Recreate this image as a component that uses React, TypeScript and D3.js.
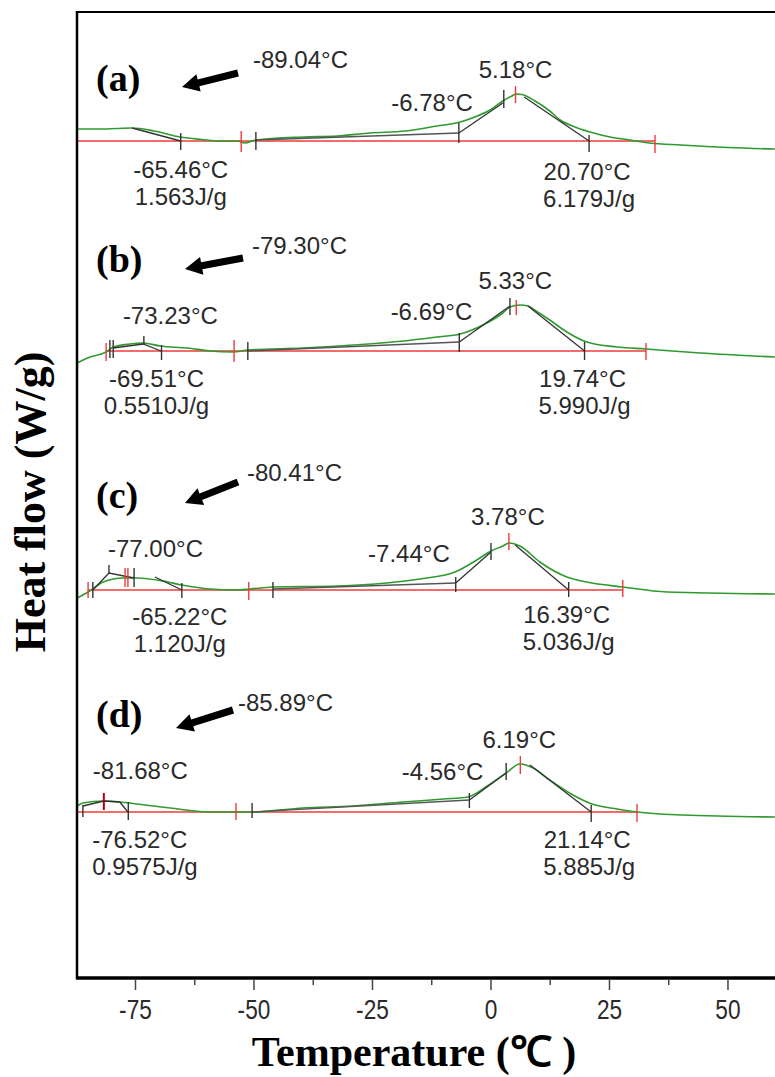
import React from 'react';
import * as d3 from 'd3';

// ---------- data ----------
const panelNames = ['(a)', '(b)', '(c)', '(d)'];
// vertical offset (W/g) of each stacked DSC trace
const panelOffsets = [8.36, 6.26, 3.87, 1.65];
const xTicks = [-75, -50, -25, 0, 25, 50];
const xMinorTicks = [-62.5, -37.5, -12.5, 12.5, 37.5];

// heat-flow traces [temperature °C, heat flow relative to baseline W/g]
const curveA = [[-87.3,0.12],[-83,0.12],[-79,0.125],[-75.7,0.13],[-71,0.10],[-65.6,0.04],[-61,0.015],[-57.2,0.0],[-53.4,0.0],[-52,-0.02],[-49.6,0.01],[-39.7,0.04],[-32.5,0.05],[-25.5,0.08],[-18,0.10],[-11.4,0.15],[-6.5,0.19],[-3.4,0.24],[-0.2,0.31],[2.5,0.40],[4.4,0.45],[5.3,0.47],[6.5,0.465],[9.3,0.40],[12.4,0.30],[14.6,0.21],[17.7,0.14],[20.9,0.09],[25.1,0.04],[29.3,0.01],[33.5,-0.02],[40,-0.04],[50,-0.065],[59.9,-0.08]];
const curveB = [[-87.3,-0.12],[-84.6,-0.06],[-81.2,-0.01],[-79.7,0.04],[-76.2,0.07],[-73.4,0.08],[-69.8,0.05],[-64.1,0.03],[-59.3,0.0],[-54.4,-0.01],[-51.3,0.01],[-39.7,0.03],[-29.1,0.06],[-18.5,0.10],[-11.4,0.14],[-6.5,0.17],[-1.7,0.26],[2.5,0.38],[4.0,0.44],[6.1,0.46],[7.8,0.45],[9.5,0.40],[12.4,0.31],[16.0,0.19],[20.2,0.09],[26.6,0.04],[32.7,0.02],[44.1,-0.02],[59.9,-0.06]];
const curveC = [[-87.3,-0.08],[-85.0,-0.02],[-81.8,0.08],[-77.6,0.12],[-74.7,0.12],[-69.2,0.09],[-65.2,0.05],[-59.3,0.01],[-53.6,0.0],[-50.9,0.01],[-46.0,0.03],[-32.5,0.04],[-22.0,0.07],[-15.0,0.11],[-7.6,0.18],[-3.0,0.30],[0.0,0.39],[2.5,0.44],[3.8,0.47],[6.1,0.44],[10.3,0.28],[16.0,0.13],[20.2,0.08],[27.8,0.03],[37.1,-0.02],[59.9,-0.04]];
const curveD = [[-87.3,0.06],[-86.1,0.09],[-81.7,0.11],[-78.3,0.10],[-74.7,0.08],[-67.7,0.04],[-59.7,0.0],[-53.8,0.0],[-50.4,0.0],[-39.7,0.04],[-29.1,0.06],[-18.5,0.10],[-10,0.13],[-4.9,0.15],[-0.8,0.26],[3.2,0.39],[6.1,0.48],[8.9,0.44],[12.4,0.32],[17.3,0.17],[21.3,0.08],[26.6,0.03],[30.8,0.0],[40.5,-0.03],[59.9,-0.05]];
const curves = [curveA, curveB, curveC, curveD];

// integration baseline spans [start °C, end °C]
const baselineSpans = [[-87.34, 34.6], [-81.2, 32.7], [-85.0, 27.8], [-87.34, 30.8]];

// analysis tangent / baseline segments [°C, rel W/g]
const segA = [[[-75.7,0.13],[-65.46,0]], [[-49.6,0.01],[-6.78,0.08]], [[-6.78,0.08],[2.5,0.38]], [[7.0,0.44],[20.70,0]]];
const segB = [[[-79.7,0.03],[-73.4,0.07],[-69.6,0.0]], [[-51.3,0.0],[-6.69,0.09]], [[-6.69,0.09],[4.0,0.45]], [[7.8,0.45],[19.74,0]]];
const segC = [[[-84.0,0],[-80.6,0.17],[-75.3,0.12]], [[-70.9,0.13],[-65.22,0]], [[-46.0,0.01],[-7.44,0.07]], [[-7.44,0.07],[0.0,0.38]], [[5.1,0.45],[16.39,0]]];
const segD = [[[-86.1,0.06],[-81.7,0.11],[-78.3,0.10],[-76.6,0.0]], [[-50.4,0],[-4.56,0.12]], [[-4.56,0.12],[3.2,0.39]], [[8.2,0.47],[21.14,0]]];
const segments = [segA, segB, segC, segD];

// marker ticks [°C, colour k/r/d, top rel, bottom rel]
const ticksA = [[-65.46,'k',0.08,-0.09],[-52.7,'r',0.10,-0.11],[-49.6,'k',0.09,-0.09],[-6.78,'k',0.18,-0.02],[2.7,'k',0.51,0.33],[5.18,'r',0.55,0.38],[20.70,'k',0.06,-0.11],[34.6,'r',0.06,-0.12]];
const ticksB = [[-81.2,'r',0.08,-0.10],[-80.4,'k',0.11,-0.07],[-79.7,'k',0.11,-0.07],[-73.23,'k',0.15,0.06],[-69.51,'k',0.06,-0.09],[-54.2,'r',0.11,-0.11],[-51.3,'k',0.09,-0.09],[-6.69,'k',0.18,-0.01],[4.0,'k',0.53,0.36],[5.33,'r',0.51,0.36],[19.74,'k',0.09,-0.09],[32.7,'r',0.08,-0.09]];
const ticksC = [[-85.0,'r',0.08,-0.08],[-84.0,'k',0.08,-0.08],[-80.6,'k',0.25,0.16],[-77.2,'r',0.22,0.03],[-76.6,'r',0.22,0.03],[-75.3,'k',0.22,0.03],[-65.22,'k',0.07,-0.08],[-51.1,'r',0.08,-0.10],[-46.0,'k',0.08,-0.08],[-7.44,'k',0.13,-0.02],[0.0,'k',0.47,0.30],[3.78,'r',0.57,0.40],[16.39,'k',0.08,-0.07],[27.8,'r',0.10,-0.07]];
const ticksD = [[-86.1,'k',0.07,-0.05],[-81.68,'d',0.19,0.02],[-76.52,'k',0.10,-0.08],[-53.8,'r',0.09,-0.08],[-50.4,'k',0.09,-0.06],[-4.56,'k',0.19,0.04],[3.2,'k',0.49,0.32],[6.19,'r',0.56,0.38],[21.14,'k',0.07,-0.10],[30.8,'r',0.08,-0.10]];
const markerTicks = [ticksA, ticksB, ticksC, ticksD];

// annotated values
const offScaleOnsets = [-89.04, -79.30, -80.41, -85.89];
const smallPeakTemps = [null, -73.23, -77.00, -81.68];
const smallEndTemps = [-65.46, -69.51, -65.22, -76.52];
const smallEnthalpy = [1.563, 0.5510, 1.120, 0.9575];
const mainOnsetTemps = [-6.78, -6.69, -7.44, -4.56];
const mainPeakTemps = [5.18, 5.33, 3.78, 6.19];
const mainEndTemps = [20.70, 19.74, 16.39, 21.14];
const mainEnthalpy = [6.179, 5.990, 5.036, 5.885];

// ---------- layout (pixel offsets only) ----------
const panelLabelDy = [-50, -79, -82, -85];
const arrowTail = [[238, -68], [243, -93], [238, -108], [233, -102]];
const arrowTip = [[182, -54], [185, -82], [185, -87], [176, -84]];
const onsetTextPos = [[253, -73], [252, -97], [247, -109], [238, -101]];
const smallPeakDxDy = [[0, 0], [-21, -27], [-18, -33], [-11, -33]];
const smallEndDxDy = [[0, 37], [-5, 36], [-2, 35], [12, 36]];
const mainOnsetDxDy = [[14, -30], [13, -31], [-6, -28], [14, -32]];
const mainPeakDxDy = [[0, -63], [-1, -62], [-1, -65], [-1, -64]];
const mainEndDxDy = [[-2, 39], [-2, 36], [-2, 33], [-4, 36]];
const lineGap = 27;

const GREEN = '#2f9a2f';
const RED = '#f03a3a';
const DARKRED = '#b00010';
const INK = '#2a2a2a';
const SANS = '"Liberation Sans", Arial, Helvetica, sans-serif';
const SERIF = '"Liberation Serif", "Times New Roman", serif';

const fmtT = (v: number) => v.toFixed(2) + '°C';
const fmtH = (v: number) => v.toPrecision(4) + 'J/g';

function arrowPoints(t: number[], p: number[]) {
  const dx = p[0] - t[0], dy = p[1] - t[1];
  const L = Math.hypot(dx, dy);
  const ux = dx / L, uy = dy / L;
  const nx = -uy, ny = ux;
  const hw = 3.6, hh = 9, hl = 17;
  const bx = p[0] - ux * hl, by = p[1] - uy * hl;
  const pts = [
    [t[0] + nx * hw, t[1] + ny * hw],
    [bx + nx * hw, by + ny * hw],
    [bx + nx * hh, by + ny * hh],
    [p[0], p[1]],
    [bx - nx * hh, by - ny * hh],
    [bx - nx * hw, by - ny * hw],
    [t[0] - nx * hw, t[1] - ny * hw],
  ];
  return pts.map(q => q.join(',')).join(' ');
}

export default function App() {
  const x = d3.scaleLinear().domain([-87.34, 59.92]).range([77, 775]);
  const y = d3.scaleLinear().domain([0, 9.65]).range([977, 12]);
  const line = d3.line<number[]>().x(d => x(d[0])).y(d => y(d[1])).curve(d3.curveMonotoneX);
  const segLine = d3.line<number[]>().x(d => x(d[0])).y(d => y(d[1]));
  const colorOf = (c: string) => (c === 'r' ? RED : c === 'd' ? DARKRED : '#333');

  const labelStyle = { fontFamily: SANS, fontSize: 24, fill: INK } as const;

  return (
    <svg width={775} height={1077} style={{ position: 'absolute', left: 0, top: 0, background: '#fff' }}>
      <rect x={0} y={0} width={775} height={1077} fill="#fff" />
      {panelOffsets.map((o, i) => {
        const by = y(o);
        const texts: any[] = [];
        texts.push(<text key="on" x={onsetTextPos[i][0]} y={by + onsetTextPos[i][1]} {...labelStyle}>{fmtT(offScaleOnsets[i])}</text>);
        const sp = smallPeakTemps[i];
        if (sp !== null) {
          texts.push(<text key="sp" x={x(sp) + smallPeakDxDy[i][0]} y={by + smallPeakDxDy[i][1]} {...labelStyle}>{fmtT(sp)}</text>);
        }
        const se = smallEndTemps[i];
        const anchorSmall = i === 3 ? 'start' : 'middle';
        const sx = i === 3 ? x(se) - 36 : x(se) + smallEndDxDy[i][0];
        texts.push(<text key="se" x={sx} y={by + smallEndDxDy[i][1]} textAnchor={anchorSmall} {...labelStyle}>{fmtT(se)}</text>);
        texts.push(<text key="sh" x={sx} y={by + smallEndDxDy[i][1] + lineGap} textAnchor={anchorSmall} {...labelStyle}>{fmtH(smallEnthalpy[i])}</text>);
        texts.push(<text key="mo" x={x(mainOnsetTemps[i]) + mainOnsetDxDy[i][0]} y={by + mainOnsetDxDy[i][1]} textAnchor="end" {...labelStyle}>{fmtT(mainOnsetTemps[i])}</text>);
        texts.push(<text key="mp" x={x(mainPeakTemps[i]) + mainPeakDxDy[i][0]} y={by + mainPeakDxDy[i][1]} textAnchor="middle" {...labelStyle}>{fmtT(mainPeakTemps[i])}</text>);
        texts.push(<text key="me" x={x(mainEndTemps[i]) + mainEndDxDy[i][0]} y={by + mainEndDxDy[i][1]} textAnchor="middle" {...labelStyle}>{fmtT(mainEndTemps[i])}</text>);
        texts.push(<text key="mh" x={x(mainEndTemps[i]) + mainEndDxDy[i][0] + 2} y={by + mainEndDxDy[i][1] + lineGap} textAnchor="middle" {...labelStyle}>{fmtH(mainEnthalpy[i])}</text>);

        const tail = [arrowTail[i][0], by + arrowTail[i][1]];
        const tip = [arrowTip[i][0], by + arrowTip[i][1]];
        return (
          <g key={i}>
            <line x1={x(baselineSpans[i][0])} x2={x(baselineSpans[i][1])} y1={by} y2={by} stroke={RED} strokeWidth={1.6} />
            <path d={line(curves[i].map(d => [d[0], d[1] + o])) || ''} fill="none" stroke={GREEN} strokeWidth={1.6} />
            {segments[i].map((s, j) => (
              <path key={j} d={segLine(s.map(d => [d[0], d[1] + o])) || ''} fill="none" stroke={j === (i === 2 ? 2 : 1) ? '#555' : '#333'} strokeWidth={1.3} />
            ))}
            {markerTicks[i].map((t: any, j) => (
              <line key={j} x1={x(t[0])} x2={x(t[0])} y1={y(o + t[2])} y2={y(o + t[3])} stroke={colorOf(t[1])} strokeWidth={t[1] === 'd' ? 2 : 1.4} />
            ))}
            <text x={96} y={by + panelLabelDy[i]} fontFamily={SERIF} fontWeight="bold" fontSize={38} fill="#000">{panelNames[i]}</text>
            <polygon points={arrowPoints(tail, tip)} fill="#000" />
            {texts}
          </g>
        );
      })}

      {/* frame */}
      <line x1={77} x2={77} y1={11} y2={979} stroke="#000" strokeWidth={2.5} />
      <line x1={76} x2={775} y1={12} y2={12} stroke="#000" strokeWidth={2} />
      <line x1={76} x2={775} y1={978} y2={978} stroke="#000" strokeWidth={3.5} />

      {/* x axis */}
      {xTicks.map(t => (
        <g key={t}>
          <line x1={x(t)} x2={x(t)} y1={979} y2={990} stroke="#444" strokeWidth={1.5} />
          <text transform={`translate(${x(t)},1019) scale(0.84,1)`} textAnchor="middle" fontFamily={SANS} fontSize={27} fill={INK}>{String(t)}</text>
        </g>
      ))}
      {xMinorTicks.map(t => (
        <line key={t} x1={x(t)} x2={x(t)} y1={979} y2={985} stroke="#444" strokeWidth={1.5} />
      ))}
      <text x={414} y={1066} textAnchor="middle" fontFamily={SERIF} fontWeight="bold" fontSize={42} fill="#000">Temperature (℃ )</text>
      <text transform="translate(45,502) rotate(-90)" textAnchor="middle" fontFamily={SERIF} fontWeight="bold" fontSize={44} fill="#000">Heat flow (W/g)</text>
    </svg>
  );
}
